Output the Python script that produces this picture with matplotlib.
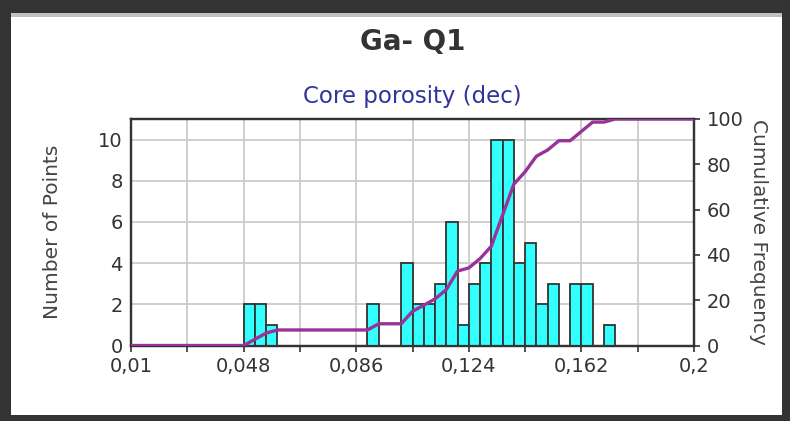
import numpy as np
import matplotlib
matplotlib.use("Agg")
import matplotlib.pyplot as plt
from matplotlib.patches import Rectangle

# -------------------- DATA --------------------
bin_lo, bin_hi, n_bins = 0.01, 0.2, 50
counts = [0, 0, 0, 0, 0, 0, 0, 0, 0, 0,
          2, 2, 1, 0, 0, 0, 0, 0, 0, 0,
          0, 2, 0, 0, 4, 2, 2, 3, 6, 1,
          3, 4, 10, 10, 4, 5, 2, 3, 0, 3,
          3, 0, 1, 0, 0, 0, 0, 0, 0, 0]
xticks = [0.01, 0.048, 0.086, 0.124, 0.162, 0.2]
xtick_labels = ["0,01", "0,048", "0,086", "0,124", "0,162", "0,2"]
yticks_left = [0, 2, 4, 6, 8, 10]
yticks_right = [0, 20, 40, 60, 80, 100]

title = "Ga- Q1"
subtitle = "Core porosity (dec)"

# -------------------- STYLE --------------------
plt.rcParams.update({"font.family": "DejaVu Sans"})
dark = "#333333"
bar_col = "#33ffff"
line_col = "#993399"
grid_col = "#cccccc"

fig = plt.figure(figsize=(7.9, 4.21), dpi=100)

# outer frame
fig.patches.append(Rectangle((0, 0), 1, 1, transform=fig.transFigure,
                             facecolor="white", edgecolor="none", zorder=-3))
for (x0, y0, w, h) in [(0, 0, 11/790, 1), (0, 1 - 13/421, 1, 13/421),
                       (1 - 8/790, 0, 8/790, 1), (0, 0, 1, 6/421)]:
    fig.patches.append(Rectangle((x0, y0), w, h, transform=fig.transFigure,
                                 facecolor=dark, edgecolor="none", zorder=-1))
fig.patches.append(Rectangle((11/790, 1 - 17/421), 1 - 19/790, 4/421,
                             transform=fig.transFigure, facecolor="#c0c0c0",
                             edgecolor="none", zorder=-2))

ax = fig.add_axes([131/790, 75.5/421, 563/790, 226.5/421])

edges = np.linspace(bin_lo, bin_hi, n_bins + 1)
width = edges[1] - edges[0]
counts = np.array(counts)
nz = counts > 0
ax.bar(edges[:-1][nz], counts[nz], width=width, align="edge",
       color=bar_col, edgecolor=dark, linewidth=1.3, zorder=3)

ax.set_xlim(bin_lo, bin_hi)
ax.set_ylim(0, 11)
ax.set_xticks(xticks)
ax.set_xticklabels(xtick_labels)
ax.set_xticks(np.arange(bin_lo + 0.019, bin_hi, 0.038), minor=True)
ax.set_yticks(yticks_left)
ax.grid(True, which="both", axis="x", color=grid_col, linewidth=1.3, zorder=0)
ax.grid(True, which="major", axis="y", color=grid_col, linewidth=1.3, zorder=0)
ax.set_axisbelow(True)
ax.tick_params(axis="x", which="both", direction="out", length=4, width=1.2,
               color=dark, labelsize=14, labelcolor=dark, pad=4)
ax.tick_params(axis="y", length=0, labelsize=14, labelcolor=dark, pad=6)
for s in ax.spines.values():
    s.set_color(dark)
    s.set_linewidth(1.6)
ax.set_ylabel("Number of Points", fontsize=14.5, color="#444444", labelpad=26)

# cumulative frequency
ax2 = ax.twinx()
cum = np.concatenate([[0], np.cumsum(counts) / counts.sum() * 100])
ax2.plot(edges, cum, color=line_col, linewidth=2.4, zorder=5,
         solid_capstyle="butt")
ax2.set_ylim(0, 100)
ax2.set_yticks(yticks_right)
ax2.tick_params(axis="y", direction="out", length=4, width=1.2, color=dark,
                labelsize=14, labelcolor=dark, pad=5)
for s in ax2.spines.values():
    s.set_color(dark)
    s.set_linewidth(1.6)
ax2.set_ylabel("Cumulative Frequency", fontsize=14.5, color="#444444",
               rotation=-90, labelpad=18)

fig.text(0.522, 1 - 42/421, title, ha="center", va="center",
         fontsize=20, fontweight="bold", color=dark)
fig.text(0.522, 1 - 97/421, subtitle, ha="center", va="center",
         fontsize=16.5, color="#333399")

fig.savefig("out.png", dpi=100)
